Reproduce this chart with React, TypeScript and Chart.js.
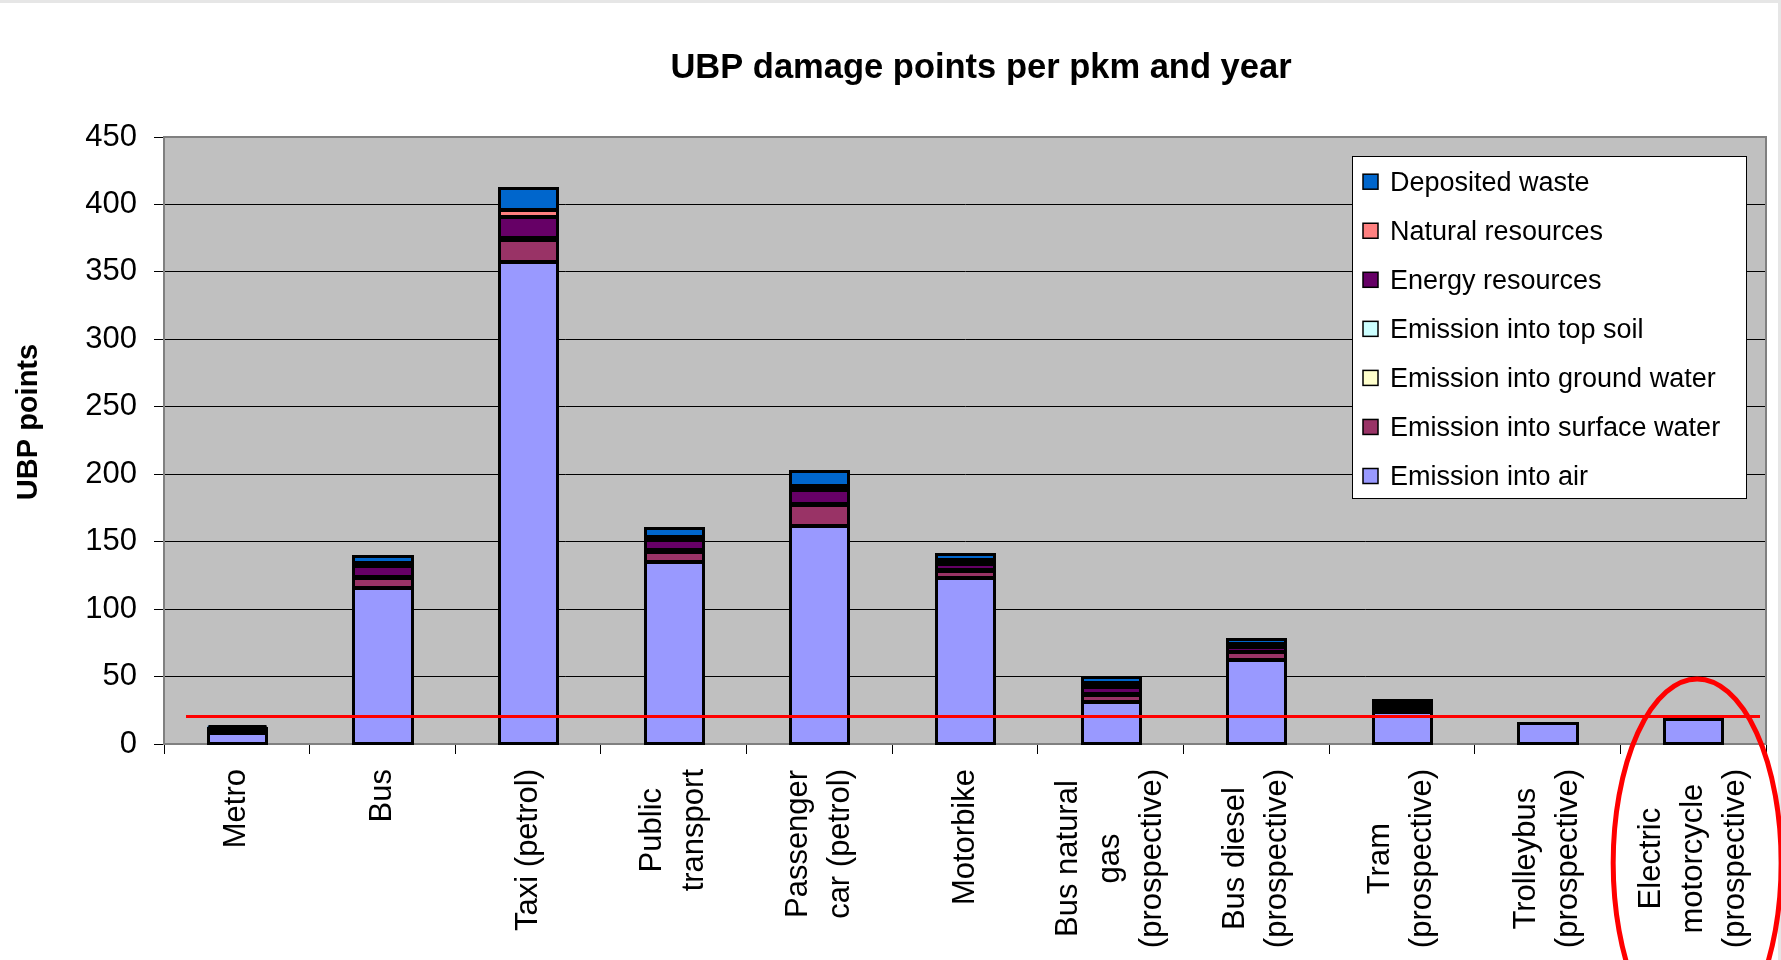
import React, { useEffect, useRef } from "react";
import { Chart, registerables } from "chart.js";

Chart.register(...registerables);

// ---------- data ----------
const categories: string[][] = [
  ["Metro"],
  ["Bus"],
  ["Taxi (petrol)"],
  ["Public", "transport"],
  ["Passenger", "car (petrol)"],
  ["Motorbike"],
  ["Bus natural", "gas", "(prospective)"],
  ["Bus diesel", "(prospective)"],
  ["Tram", "(prospective)"],
  ["Trolleybus", "(prospective)"],
  ["Electric", "motorcycle", "(prospective)"],
];

const emissionAir = [8.5, 116, 357, 135, 161.5, 123, 31, 62, 23.5, 15.3, 18.7];
const emissionSurfaceWater = [1, 7, 17, 7.5, 15.5, 5.5, 5, 6, 2, null, null];
const emissionGroundWater = [0.5, 0.5, 0.5, 0.5, 0.3, 0.2, 0.5, 0.2, 1, null, null];
const emissionTopSoil = [0.5, 0.5, 0.5, 0.5, 0.3, 0.2, 0.5, 0.2, 1, null, null];
const energyResources = [1.5, 8, 15.5, 8, 10.5, 4.3, 5.5, 3.5, 2, null, null];
const naturalResources = [0.5, 2, 5.5, 2, 3, 3, 3, 2, 1.5, null, null];
const depositedWaste = [1, 5.5, 16.5, 6.5, 11, 4.6, 4, 3.6, 1.5, null, null];

const seriesLabels = [
  "Emission into air",
  "Emission into surface water",
  "Emission into ground water",
  "Emission into top soil",
  "Energy resources",
  "Natural resources",
  "Deposited waste",
];
const seriesValues = [
  emissionAir,
  emissionSurfaceWater,
  emissionGroundWater,
  emissionTopSoil,
  energyResources,
  naturalResources,
  depositedWaste,
];
const seriesColors = ["#9999FF", "#993366", "#FFFFCC", "#CCFFFF", "#660066", "#FF8080", "#0066CC"];

const yMin = 0;
const yMax = 450;
const yStep = 50;
const thresholdValue = 21;

const chartTitle = "UBP damage points per pkm and year";
const yAxisTitle = "UBP points";

const FONT = "'Liberation Sans', Arial, Helvetica, sans-serif";

const decorPlugin = {
  id: "decor",
  beforeDraw(chart: any) {
    const { ctx, chartArea: a } = chart;
    ctx.save();
    ctx.fillStyle = "#e6e6e6";
    ctx.fillRect(0, 0, chart.width, 3);
    ctx.fillRect(chart.width - 3, 0, 3, chart.height);
    ctx.fillStyle = "#c0c0c0";
    ctx.fillRect(a.left, a.top, a.right - a.left, a.bottom - a.top);
    ctx.restore();
  },
  afterDatasetsDraw(chart: any) {
    const { ctx, chartArea: a } = chart;
    ctx.save();
    // Excel-like bar outlines
    ctx.strokeStyle = "#000";
    ctx.lineWidth = 3;
    chart.data.datasets.forEach((ds: any, i: number) => {
      const meta = chart.getDatasetMeta(i);
      meta.data.forEach((el: any, j: number) => {
        const v = ds.data[j];
        if (v == null) return;
        const p = el.getProps(["x", "y", "base", "width"], true);
        const l = Math.round(p.x - p.width / 2) + 0.5;
        const r = Math.round(p.x + p.width / 2) + 0.5;
        const t = Math.round(Math.min(p.y, p.base)) + 0.5;
        const b = Math.round(Math.max(p.y, p.base)) - 0.5;
        ctx.strokeRect(l, t, r - l, b - t);
      });
    });
    // plot frame (top / right)
    ctx.strokeStyle = "#808080";
    ctx.lineWidth = 2;
    ctx.beginPath();
    ctx.moveTo(a.left, a.top);
    ctx.lineTo(a.right, a.top);
    ctx.lineTo(a.right, a.bottom);
    ctx.stroke();
    // threshold line
    const y = Math.round(chart.scales.y.getPixelForValue(thresholdValue)) + 0.5;
    ctx.strokeStyle = "#ff0000";
    ctx.lineWidth = 3;
    ctx.beginPath();
    ctx.moveTo(a.left + 22, y);
    ctx.lineTo(a.right - 6, y);
    ctx.stroke();
    ctx.restore();
  },
  afterDraw(chart: any) {
    const { ctx, chartArea: a } = chart;
    const xs = chart.scales.x;
    ctx.save();
    ctx.fillStyle = "#000";
    // title
    ctx.font = `bold 34.5px ${FONT}`;
    ctx.textAlign = "center";
    ctx.textBaseline = "alphabetic";
    ctx.fillText(chartTitle, 981, 78);
    // y axis title
    ctx.save();
    ctx.translate(29, 422);
    ctx.rotate(-Math.PI / 2);
    ctx.font = `bold 29px ${FONT}`;
    ctx.textBaseline = "middle";
    ctx.fillText(yAxisTitle, 0, 0);
    ctx.restore();
    // x labels (rotated, lines centred)
    ctx.font = `31px ${FONT}`;
    ctx.textBaseline = "middle";
    ctx.textAlign = "center";
    categories.forEach((lines, i) => {
      const cx = xs.getPixelForTick(i);
      const maxW = Math.max(...lines.map((s) => ctx.measureText(s).width));
      const cy = a.bottom + 25 + maxW / 2;
      lines.forEach((s, k) => {
        const lx = cx + (k - (lines.length - 1) / 2) * 42;
        ctx.save();
        ctx.translate(lx, cy);
        ctx.rotate(-Math.PI / 2);
        ctx.fillText(s, 0, 0);
        ctx.restore();
      });
    });
    // legend
    const bx = 1352, by = 156, bw = 394, bh = 342;
    ctx.fillStyle = "#fff";
    ctx.fillRect(bx, by, bw, bh);
    ctx.strokeStyle = "#000";
    ctx.lineWidth = 1;
    ctx.strokeRect(bx + 0.5, by + 0.5, bw, bh);
    ctx.font = `27px ${FONT}`;
    ctx.textAlign = "left";
    ctx.textBaseline = "alphabetic";
    const n = seriesLabels.length;
    for (let k = 0; k < n; k++) {
      const di = n - 1 - k;
      const cyy = 181.7 + k * 49.05;
      ctx.fillStyle = seriesColors[di];
      ctx.fillRect(1363, cyy - 7.5, 15, 15);
      ctx.lineWidth = 1.5;
      ctx.strokeStyle = "#000";
      ctx.strokeRect(1363, cyy - 7.5, 15, 15);
      ctx.fillStyle = "#000";
      ctx.fillText(seriesLabels[di], 1390, cyy + 9);
    }
    // red ellipse around last category
    const ex = xs.getPixelForTick(categories.length - 1) + 4;
    ctx.strokeStyle = "#ff0000";
    ctx.lineWidth = 5;
    ctx.beginPath();
    ctx.ellipse(ex, 863, 84, 184, 0, 0, Math.PI * 2);
    ctx.stroke();
    ctx.restore();
  },
};

export default function App() {
  const ref = useRef<HTMLCanvasElement>(null);
  useEffect(() => {
    const canvas = ref.current!;
    const chart = new Chart(canvas, {
      type: "bar",
      data: {
        labels: categories.map((c) => c.join(" ")),
        datasets: seriesLabels.map((label, i) => ({
          label,
          data: seriesValues[i] as any,
          backgroundColor: seriesColors[i],
          borderWidth: 0,
          barPercentage: 0.4,
          categoryPercentage: 1,
        })),
      },
      options: {
        responsive: false,
        animation: false,
        devicePixelRatio: 1,
        layout: { padding: { top: 137, right: 15, bottom: 0, left: 0 } },
        plugins: {
          legend: { display: false },
          title: { display: false },
          tooltip: { enabled: false },
        },
        scales: {
          x: {
            stacked: true,
            ticks: { display: false },
            grid: {
              offset: true,
              drawOnChartArea: false,
              drawTicks: true,
              tickLength: 10,
              color: "#000",
              lineWidth: 1,
            },
            border: { display: true, color: "#808080", width: 2 },
            afterFit: (s: any) => {
              s.height = 216;
            },
          },
          y: {
            stacked: true,
            min: yMin,
            max: yMax,
            ticks: {
              stepSize: yStep,
              padding: 17,
              color: "#000",
              font: { family: FONT, size: 31 },
            },
            grid: {
              color: (c: any) =>
                c.tick && (c.tick.value === yMin || c.tick.value === yMax) ? "#808080" : "#000",
              lineWidth: 1,
              tickColor: "#000",
              tickLength: 10,
            },
            border: { display: true, color: "#808080", width: 2 },
            afterFit: (s: any) => {
              s.width = 164;
            },
          },
        },
      },
      plugins: [decorPlugin],
    });
    return () => chart.destroy();
  }, []);
  return (
    <div style={{ position: "fixed", left: 0, top: 0, width: 1781, height: 960, background: "#fff" }}>
      <canvas ref={ref} width={1781} height={960} style={{ display: "block" }} />
    </div>
  );
}
